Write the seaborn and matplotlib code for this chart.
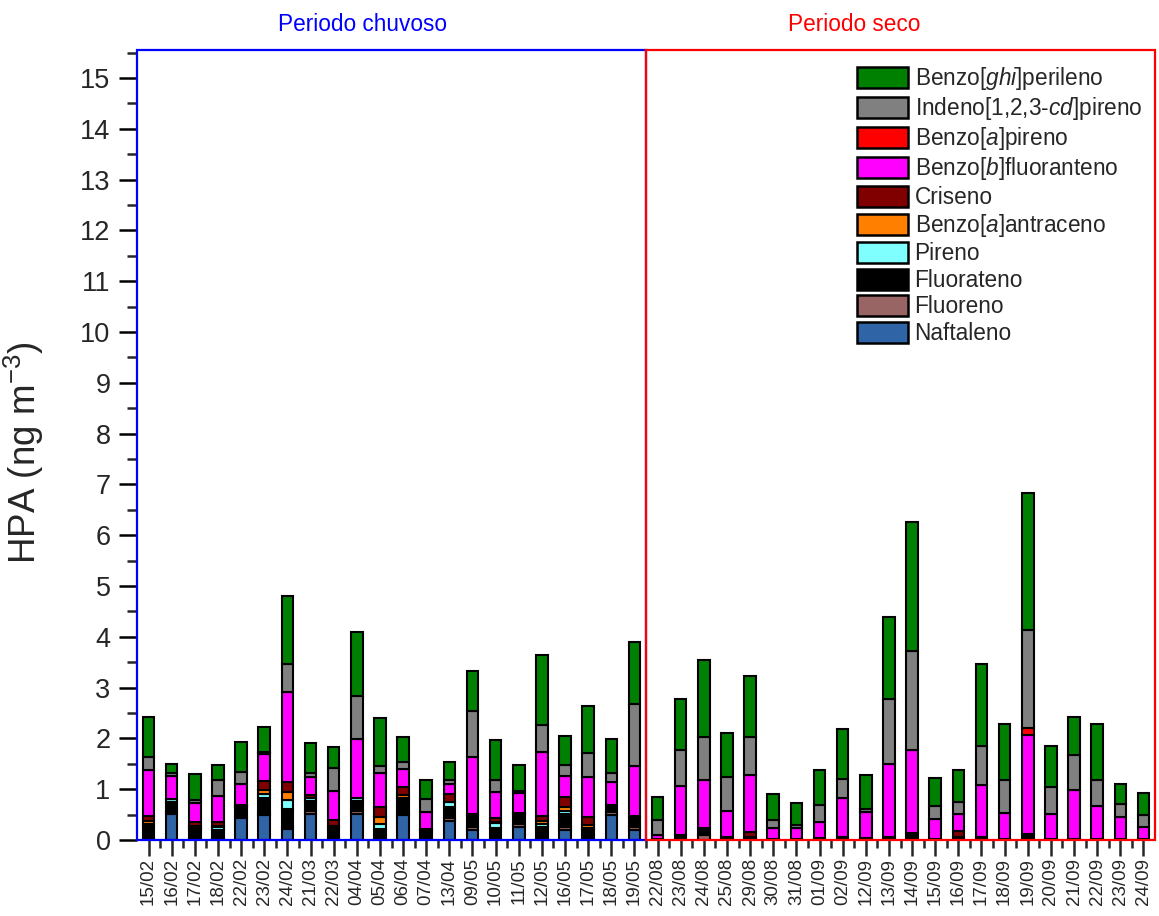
import numpy as np
import pandas as pd
import matplotlib
matplotlib.use("Agg")
import matplotlib.pyplot as plt
from matplotlib.patches import Rectangle, Patch
from matplotlib.ticker import MultipleLocator
import seaborn as sns

# Sampling dates (rainy period followed by dry period)
datas_chuvoso = ["15/02", "16/02", "17/02", "18/02", "22/02", "23/02", "24/02", "21/03",
                 "22/03", "04/04", "05/04", "06/04", "07/04", "13/04", "09/05", "10/05",
                 "11/05", "12/05", "16/05", "17/05", "18/05", "19/05"]
datas_seco = ["22/08", "23/08", "24/08", "25/08", "29/08", "30/08", "31/08", "01/09",
              "02/09", "12/09", "13/09", "14/09", "15/09", "16/09", "17/09", "18/09",
              "19/09", "20/09", "21/09", "22/09", "23/09", "24/09"]
datas = datas_chuvoso + datas_seco

# PAH concentrations (ng m-3), stacked bottom -> top
naftaleno = [0.03, 0.52, 0.03, 0.03, 0.43, 0.50, 0.22, 0.52, 0.02, 0.52, 0.02, 0.50, 0.02, 0.38,
             0.20, 0.02, 0.25, 0.02, 0.20, 0.02, 0.50, 0.20] + [0.0] * 22
fluoreno = [0.0, 0.04, 0.0, 0.0, 0.04, 0.04, 0.04, 0.05, 0.03, 0.05, 0.0, 0.04, 0.0, 0.05,
            0.05, 0.0, 0.06, 0.0, 0.05, 0.0, 0.05, 0.05] + \
           [0.0, 0.0, 0.10, 0.0, 0.0, 0.0, 0.0, 0.0, 0.0, 0.0, 0.0, 0.0, 0.0, 0.0,
            0.0, 0.0, 0.0, 0.0, 0.0, 0.0, 0.0, 0.0]
fluorateno = [0.24, 0.19, 0.18, 0.17, 0.17, 0.28, 0.36, 0.20, 0.19, 0.20, 0.20, 0.24, 0.13, 0.22,
              0.22, 0.22, 0.20, 0.24, 0.26, 0.17, 0.14, 0.20] + \
             [0.02, 0.10, 0.13, 0.06, 0.06, 0.02, 0.02, 0.03, 0.06, 0.03, 0.06, 0.14, 0.02, 0.06,
              0.05, 0.02, 0.12, 0.02, 0.02, 0.02, 0.02, 0.02]
pireno = [0.05, 0.05, 0.05, 0.05, 0.03, 0.08, 0.17, 0.05, 0.04, 0.06, 0.10, 0.05, 0.04, 0.10,
          0.04, 0.10, 0.0, 0.05, 0.06, 0.04, 0.0, 0.03] + [0.0] * 22
benzo_a_antraceno = [0.05, 0.0, 0.02, 0.02, 0.0, 0.08, 0.15, 0.0, 0.0, 0.0, 0.13, 0.06, 0.0, 0.0,
                     0.0, 0.02, 0.0, 0.07, 0.07, 0.06, 0.0, 0.0] + [0.0] * 22
criseno = [0.10, 0.0, 0.07, 0.08, 0.02, 0.18, 0.20, 0.06, 0.12, 0.0, 0.20, 0.16, 0.02, 0.15,
           0.0, 0.08, 0.02, 0.10, 0.20, 0.16, 0.0, 0.0] + \
          [0.0, 0.0, 0.0, 0.0, 0.10, 0.0, 0.0, 0.0, 0.0, 0.0, 0.0, 0.0, 0.0, 0.12,
           0.0, 0.0, 0.0, 0.0, 0.0, 0.0, 0.0, 0.0]
benzo_b_fluoranteno = [0.91, 0.45, 0.38, 0.52, 0.42, 0.53, 1.78, 0.36, 0.57, 1.16, 0.67, 0.34, 0.35, 0.21,
                       1.13, 0.50, 0.39, 1.26, 0.42, 0.79, 0.45, 0.97] + \
                      [0.08, 0.96, 0.95, 0.52, 1.11, 0.22, 0.22, 0.32, 0.77, 0.52, 1.43, 1.63, 0.40, 0.33,
                       1.03, 0.52, 1.95, 0.50, 0.96, 0.65, 0.44, 0.24]
benzo_a_pireno = [0.0] * 22 + \
                 [0.0, 0.0, 0.0, 0.0, 0.0, 0.0, 0.0, 0.0, 0.0, 0.0, 0.0, 0.0, 0.0, 0.0,
                  0.0, 0.0, 0.14, 0.0, 0.0, 0.0, 0.0, 0.0]
indeno_pireno = [0.25, 0.06, 0.06, 0.31, 0.22, 0.05, 0.55, 0.07, 0.44, 0.84, 0.13, 0.15, 0.24, 0.07,
                 0.90, 0.25, 0.05, 0.52, 0.21, 0.47, 0.17, 1.22] + \
                [0.29, 0.71, 0.85, 0.66, 0.75, 0.15, 0.05, 0.33, 0.38, 0.07, 1.28, 1.95, 0.25, 0.23,
                 0.78, 0.65, 1.92, 0.52, 0.69, 0.52, 0.24, 0.23]
benzo_ghi_perileno = [0.80, 0.19, 0.50, 0.29, 0.60, 0.49, 1.33, 0.60, 0.43, 1.26, 0.95, 0.49, 0.39, 0.35,
                      0.79, 0.77, 0.50, 1.38, 0.58, 0.93, 0.68, 1.22] + \
                     [0.46, 1.00, 1.51, 0.86, 1.20, 0.52, 0.44, 0.69, 0.97, 0.65, 1.61, 2.53, 0.56, 0.63,
                      1.60, 1.10, 2.71, 0.82, 0.75, 1.09, 0.41, 0.44]

camadas = [
    ("Naftaleno", naftaleno, "#2f64a6"),
    ("Fluoreno", fluoreno, "#986464"),
    ("Fluorateno", fluorateno, "#000000"),
    ("Pireno", pireno, "#80ffff"),
    (r"Benzo[$\mathit{a}$]antraceno", benzo_a_antraceno, "#ff8000"),
    ("Criseno", criseno, "#800000"),
    (r"Benzo[$\mathit{b}$]fluoranteno", benzo_b_fluoranteno, "#ff00ff"),
    (r"Benzo[$\mathit{a}$]pireno", benzo_a_pireno, "#ff0000"),
    (r"Indeno[1,2,3-$\mathit{cd}$]pireno", indeno_pireno, "#808080"),
    (r"Benzo[$\mathit{ghi}$]perileno", benzo_ghi_perileno, "#008000"),
]

sns.set_theme(style="ticks")
plt.rcParams['font.family'] = ['Liberation Sans', 'DejaVu Sans']
plt.rcParams['mathtext.fontset'] = 'custom'
plt.rcParams['mathtext.rm'] = 'Liberation Sans'
plt.rcParams['mathtext.it'] = 'Liberation Sans:italic'
plt.rcParams['mathtext.bf'] = 'Liberation Sans:bold'

fig = plt.figure(figsize=(11.59, 9.16), dpi=100)
fig.patch.set_facecolor("white")
ax = fig.add_axes([137 / 1159, 76 / 916, (1155 - 137) / 1159, (840 - 50) / 916])
ax.set_facecolor("white")

base = np.zeros(len(datas))
for nome, valores, cor in camadas:
    df = pd.DataFrame({"data": datas, "valor": valores})
    sns.barplot(data=df, x="data", y="valor", order=datas, color=cor, saturation=1,
                width=0.5, edgecolor="black", linewidth=1.5, bottom=base,
                errorbar=None, ax=ax, zorder=3)
    base = base + np.asarray(valores)

YMAX = 15.55
ax.set_xlim(-0.5, len(datas) - 0.5)
ax.set_ylim(0, YMAX)

for s in ax.spines.values():
    s.set_visible(False)

# Period frames
n1 = len(datas_chuvoso)
ax.add_patch(Rectangle((-0.5, 0), n1, YMAX, fill=False, edgecolor="#0000ff",
                       linewidth=1.6, clip_on=False, zorder=5))
ax.add_patch(Rectangle((n1 - 0.5, 0), len(datas_seco), YMAX, fill=False, edgecolor="#ff0000",
                       linewidth=1.6, clip_on=False, zorder=5))
ax.text(9.25, 16.05, "Periodo chuvoso", color="#0000ff", fontsize=16.3, ha="center", va="center")
ax.text(30.5, 16.05, "Periodo seco", color="#ff0000", fontsize=16.3, ha="center", va="center")

ax.set_xticks(range(len(datas)))
ax.set_xticklabels(datas, rotation=90, fontsize=13.5)
ax.set_xticks(np.arange(0.5, len(datas) - 0.5, 1), minor=True)
ax.yaxis.set_major_locator(MultipleLocator(1))
ax.yaxis.set_minor_locator(MultipleLocator(0.5))
ax.tick_params(axis="y", which="major", direction="out", length=13, width=1.8, labelsize=19.5,
               color="black", left=True, pad=6)
ax.tick_params(axis="y", which="minor", direction="out", length=7, width=1.8, left=True)
ax.tick_params(axis="x", which="major", direction="out", length=11.5, width=1.8, bottom=True, pad=1.5)
ax.tick_params(axis="x", which="minor", direction="out", length=6, width=1.8, bottom=True)
ax.set_xlabel("")
ax.set_ylabel(r"HPA (ng m$^{-3}$)", fontsize=26.5)
ax.yaxis.set_label_coords((46 - 137) / 1018, 0.49)

handles = [Patch(facecolor=c, edgecolor="black", linewidth=1.8, label=n)
           for n, _, c in reversed(camadas)]
leg = ax.legend(handles=handles, loc="upper left", bbox_to_anchor=(841 / 1159, 1 - 49 / 916),
                bbox_transform=fig.transFigure, frameon=False, fontsize=16.3,
                handlelength=2.25, handleheight=1.06, labelspacing=0.14, handletextpad=0.3,
                borderpad=0.2)

fig.savefig("out.png", dpi=100, facecolor="white")
